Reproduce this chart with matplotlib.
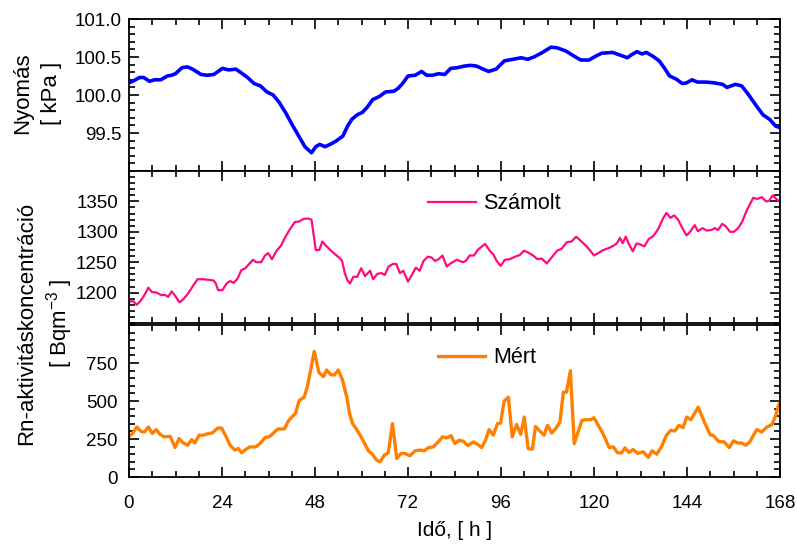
import matplotlib
matplotlib.use('Agg')
import matplotlib.pyplot as plt
from matplotlib.ticker import MultipleLocator

plt.rcParams['font.family'] = ['Liberation Sans', 'DejaVu Sans']
plt.rcParams['mathtext.fontset'] = 'custom'
plt.rcParams['mathtext.rm'] = 'Liberation Sans'
plt.rcParams['mathtext.default'] = 'regular'

# nyomas [kPa]
t_p = [0, 1.3, 2.7, 3.8, 5.3, 6.6, 8.2, 9.9, 11, 12.0, 13.7, 15.1, 16.4, 18.6, 20.2, 21.9,
       24.1, 25.7, 27.6, 29.0, 30.6, 32.3, 33.9, 35.6, 37.2, 38.8, 40.5, 42.1, 43.8, 45.4,
       47.1, 48.2, 49.2, 50.6, 52.3, 53.6, 55.2, 56.4, 57.5, 58.9, 60.2, 61.5, 62.9, 64.6,
       66.2, 68.4, 69.5, 70.6, 72.0, 73.9, 75.5, 76.8, 78.3, 79.9, 81.5, 83.0, 84.8, 86.5,
       88.1, 89.7, 91.4, 92.8, 94.7, 96.9, 99.1, 101.2, 102.9, 104.5, 106.7, 108.9, 110.5,
       112.7, 114.9, 116.6, 118.7, 120.4, 122.0, 124.8, 127.0, 128.6, 129.7, 131.1, 132.4,
       133.5, 135.2, 136.8, 138.1, 139.5, 141.2, 142.8, 143.9, 145.3, 146.7, 148.8, 151.0,
       153.2, 154.3, 156.5, 158.1, 159.8, 162.0, 163.6, 165.3, 166.9, 168.0]
p = [100.16, 100.19, 100.23, 100.23, 100.18, 100.20, 100.20, 100.25, 100.26, 100.28, 100.36,
     100.37, 100.34, 100.27, 100.26, 100.27, 100.35, 100.33, 100.34, 100.29, 100.23, 100.15,
     100.12, 100.04, 100.00, 99.90, 99.76, 99.61, 99.46, 99.32, 99.24, 99.32, 99.35, 99.32,
     99.36, 99.40, 99.46, 99.59, 99.68, 99.74, 99.77, 99.84, 99.94, 99.98, 100.04, 100.05,
     100.09, 100.15, 100.25, 100.26, 100.31, 100.26, 100.26, 100.28, 100.27, 100.35, 100.36,
     100.38, 100.39, 100.38, 100.34, 100.31, 100.34, 100.45, 100.47, 100.49, 100.47, 100.50,
     100.56, 100.63, 100.62, 100.58, 100.51, 100.46, 100.46, 100.51, 100.55, 100.56, 100.52,
     100.49, 100.53, 100.57, 100.54, 100.56, 100.51, 100.45, 100.36, 100.25, 100.21, 100.15,
     100.16, 100.20, 100.17, 100.17, 100.16, 100.14, 100.10, 100.14, 100.12, 100.01, 99.85,
     99.74, 99.68, 99.59, 99.57]

# szamolt Rn [Bq/m3]
t_sz = [0, 0.9, 2.0, 2.8, 3.9, 5.0, 5.9, 7.1, 8.3, 9.3, 10.1, 11.0, 11.9, 13.0, 14.0, 15.3,
        16.6, 17.7, 19.2, 20.5, 21.8, 22.4, 23.0, 24.1, 25.2, 26.1, 27.0, 28.0, 29.0, 30.0,
        31.0, 32.0, 32.8, 34.1, 35.1, 35.9, 36.9, 38.1, 39.2, 40.3, 41.6, 42.8, 43.9, 45.0,
        46.1, 47.1, 48.2, 49.1, 49.9, 51.0, 52.3, 53.2, 54.5, 55.0, 55.7, 56.3, 57.0, 57.9,
        58.9, 59.9, 60.9, 62.2, 63.0, 64.1, 65.2, 66.0, 67.0, 68.1, 69.0, 69.9, 70.8, 72.0,
        73.0, 74.0, 75.0, 76.0, 77.1, 78.0, 79.0, 79.9, 80.9, 82.0, 83.0, 84.6, 86.1, 86.9,
        87.9, 89.0, 90.1, 91.9, 93.2, 94.0, 94.9, 95.9, 97.0, 98.3, 99.6, 100.9, 101.9, 103.0,
        104.3, 105.4, 106.5, 107.8, 109.1, 110.5, 111.6, 113.0, 114.2, 115.4, 116.6, 118.1,
        118.9, 120.0, 121.1, 122.4, 123.7, 125.0, 125.9, 126.7, 127.4, 128.2, 129.0, 130.0,
        131.0, 132.0, 133.0, 134.1, 135.3, 136.6, 137.9, 138.7, 139.7, 140.7, 141.7, 142.8,
        143.9, 144.9, 146.0, 146.8, 148.0, 149.1, 150.3, 151.2, 152.0, 153.1, 154.0, 155.1,
        156.1, 157.2, 158.2, 159.4, 161.1, 162.1, 163.3, 164.4, 165.2, 166.1, 167.2, 168.0]
sz = [1184, 1187, 1180, 1185, 1195, 1208, 1201, 1200, 1196, 1196, 1193, 1202, 1195, 1184,
      1189, 1199, 1212, 1222, 1222, 1221, 1220, 1215, 1204, 1204, 1215, 1219, 1216, 1223,
      1237, 1240, 1247, 1254, 1250, 1250, 1261, 1265, 1255, 1269, 1277, 1291, 1305, 1316,
      1317, 1321, 1322, 1320, 1270, 1270, 1284, 1276, 1268, 1263, 1256, 1252, 1232, 1221,
      1215, 1226, 1226, 1240, 1227, 1236, 1222, 1231, 1232, 1229, 1243, 1247, 1247, 1232,
      1236, 1218, 1229, 1241, 1236, 1252, 1259, 1258, 1252, 1255, 1261, 1243, 1248, 1254,
      1250, 1252, 1261, 1261, 1271, 1280, 1268, 1263, 1252, 1244, 1254, 1255, 1259, 1262,
      1269, 1266, 1261, 1255, 1256, 1248, 1258, 1269, 1272, 1283, 1284, 1292, 1285, 1276,
      1270, 1261, 1265, 1270, 1273, 1277, 1281, 1290, 1281, 1292, 1280, 1268, 1281, 1279,
      1276, 1288, 1293, 1305, 1323, 1331, 1323, 1327, 1320, 1306, 1294, 1301, 1311, 1301,
      1306, 1302, 1303, 1306, 1303, 1313, 1309, 1300, 1300, 1306, 1316, 1335, 1356, 1354,
      1357, 1350, 1351, 1360, 1353, 1350]

# mert Rn [Bq/m3]
t_m = [0, 0.9, 2.0, 3.1, 4.0, 5.0, 6.0, 7.0, 8.0, 9.1, 10.6, 11.9, 12.9, 14.0, 15.1, 16.2,
       17.0, 18.1, 19.2, 20.5, 21.5, 22.9, 23.9, 25.0, 26.1, 27.3, 28.2, 29.1, 30.1, 31.2,
       32.7, 33.8, 35.1, 36.4, 37.3, 38.4, 40.1, 41.1, 42.4, 43.0, 43.9, 45.2, 46.1, 47.0,
       47.8, 49.0, 50.2, 51.0, 52.1, 53.0, 54.0, 55.1, 56.2, 56.9, 57.7, 58.3, 59.4, 60.5,
       61.8, 62.8, 63.9, 64.8, 65.9, 66.9, 68.0, 69.1, 70.2, 71.2, 72.5, 73.8, 75.1, 76.2,
       77.2, 78.5, 79.8, 80.9, 82.0, 83.1, 84.1, 85.2, 86.3, 87.4, 88.9, 90.0, 91.0, 92.0,
       92.9, 94.0, 95.1, 95.9, 96.8, 97.9, 98.9, 100.0, 101.1, 102.0, 103.0, 104.1, 104.9,
       106.0, 107.1, 108.0, 109.1, 110.1, 111.2, 112.1, 112.9, 113.9, 114.9, 115.9, 116.9,
       118.0, 119.2, 120.0, 121.1, 122.4, 123.9, 125.0, 126.1, 127.1, 128.0, 129.0, 130.1,
       131.3, 132.7, 134.0, 135.0, 136.2, 137.4, 138.7, 139.8, 140.9, 141.9, 143.0, 143.9,
       145.0, 146.9, 148.5, 150.0, 150.8, 152.1, 153.6, 154.9, 156.0, 157.1, 158.1, 159.2,
       160.2, 162.0, 163.3, 164.6, 165.9, 166.9, 167.6, 168.0]
m = [268, 286, 329, 300, 296, 329, 286, 312, 281, 264, 268, 194, 253, 224, 209, 246, 224,
     275, 275, 286, 290, 322, 322, 268, 209, 177, 187, 159, 181, 198, 198, 220, 259, 268,
     290, 316, 316, 368, 405, 420, 503, 525, 601, 721, 826, 688, 660, 704, 673, 671, 704,
     638, 525, 420, 351, 330, 286, 235, 172, 150, 111, 100, 144, 159, 351, 122, 155, 155,
     140, 172, 177, 172, 192, 198, 231, 264, 257, 272, 220, 242, 235, 207, 231, 214, 194,
     242, 312, 275, 351, 355, 499, 525, 264, 346, 281, 394, 187, 183, 333, 303, 275, 340,
     290, 318, 360, 558, 558, 699, 220, 296, 373, 377, 377, 390, 340, 281, 194, 198, 159,
     159, 192, 161, 181, 155, 166, 129, 172, 150, 198, 275, 307, 303, 340, 325, 394, 377,
     460, 360, 277, 273, 235, 231, 194, 238, 224, 224, 209, 231, 312, 296, 329, 344, 405,
     470, 490]

fig = plt.figure(figsize=(7.97, 5.48), dpi=100)
left, width = 129 / 797, 651 / 797
h = 152 / 548
ax1 = fig.add_axes([left, 1 - 171 / 548, width, h])
ax2 = fig.add_axes([left, 1 - 323 / 548, width, h])
ax3 = fig.add_axes([left, 1 - 477 / 548, width, h])

ax1.plot(t_p, p, color='#0000ff', lw=2.6)
ax2.plot(t_sz, sz, color='#ff0a80', lw=1.6, label='Számolt')
ax3.plot(t_m, m, color='#ff8000', lw=2.4, label='Mért')

ax1.set_ylim(99, 101)
ax1.set_yticks([99.5, 100.0, 100.5, 101.0])
ax1.set_yticklabels(['99.5', '100.0', '100.5', '101.0'])
ax1.yaxis.set_minor_locator(MultipleLocator(0.1))

ax2.set_ylim(1150, 1400)
ax2.set_yticks([1200, 1250, 1300, 1350])
ax2.yaxis.set_minor_locator(MultipleLocator(10))

ax3.set_ylim(0, 1000)
ax3.set_yticks([0, 250, 500, 750])
ax3.yaxis.set_minor_locator(MultipleLocator(50))

for ax in (ax1, ax2, ax3):
    ax.set_xlim(0, 168)
    ax.set_xticks(range(0, 169, 24))
    ax.xaxis.set_minor_locator(MultipleLocator(6))
    ax.tick_params(which='both', direction='in', top=True, right=True, width=1.2,
                   labelsize=13.5)
    ax.tick_params(which='major', length=7)
    ax.tick_params(which='minor', length=4)
    for s in ax.spines.values():
        s.set_linewidth(1.3)
ax1.tick_params(labelbottom=False)
ax2.tick_params(labelbottom=False)
ax1.tick_params(axis='y', pad=5)
ax2.tick_params(axis='y', pad=8)
ax3.tick_params(axis='y', pad=8)
ax3.tick_params(axis='x', pad=13)

ax2.legend(loc='upper left', bbox_to_anchor=(0.43, 0.98), frameon=False, fontsize=15.5,
           handlelength=2.2, handletextpad=0.35)
ax3.legend(loc='upper left', bbox_to_anchor=(0.445, 0.98), frameon=False, fontsize=15.5,
           handlelength=2.2, handletextpad=0.35)

fig.text(23 / 797, 1 - 93 / 548, 'Nyomás', rotation=90, ha='center', va='center', fontsize=16)
fig.text(52 / 797, 1 - 93 / 548, '[ kPa ]', rotation=90, ha='center', va='center', fontsize=16)
fig.text(27 / 797, 1 - 323 / 548, 'Rn-aktivitáskoncentráció', rotation=90, ha='center',
         va='center', fontsize=16)
fig.text(60 / 797, 1 - 323 / 548, '[ Bqm$^{-3}$ ]', rotation=90, ha='center', va='center',
         fontsize=16)
fig.text(455 / 797, 1 - 530 / 548, 'Idő, [ h ]', ha='center', va='center', fontsize=15)

plt.savefig('out.png', dpi=100)
